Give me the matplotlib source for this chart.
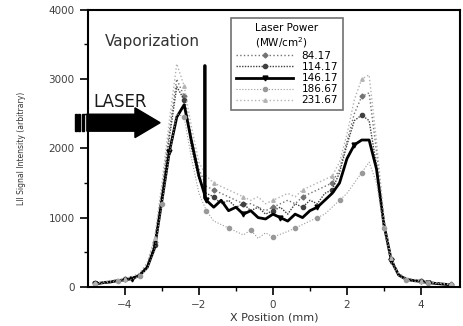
import numpy as np
import matplotlib
matplotlib.use("Agg")
import matplotlib.pyplot as plt
from matplotlib.patches import FancyArrow, Rectangle

# x grid (mm)
x_pos = np.round(np.arange(-4.8, 4.81, 0.2), 1)

# LII signal for each laser power (MW/cm^2)
p_84 = [50, 70, 80, 100, 110, 140, 190, 320, 650, 1400, 2250, 3000, 2750, 2150, 1700, 1450, 1400,
        1350, 1300, 1250, 1200, 1200, 1150, 1100, 1150, 1200, 1250, 1200, 1300, 1350, 1400, 1450,
        1500, 1700, 2100, 2500, 2750, 2800, 1950, 980, 400, 190, 120, 100, 80, 70, 55, 45, 35]
p_114 = [50, 60, 80, 90, 110, 130, 180, 300, 600, 1350, 2150, 2890, 2700, 2000, 1550, 1350, 1300,
         1200, 1250, 1150, 1200, 1100, 1150, 1050, 1100, 1150, 1050, 1200, 1150, 1250, 1200, 1350,
         1400, 1650, 2050, 2400, 2480, 2400, 1750, 950, 400, 180, 120, 100, 80, 70, 60, 40, 30]
p_146 = [40, 60, 70, 90, 100, 120, 170, 280, 560, 1250, 1950, 2450, 2630, 2100, 1600, 1250, 1150,
         1250, 1100, 1150, 1050, 1100, 1000, 980, 1050, 1000, 950, 1050, 1000, 1100, 1150, 1250,
         1350, 1500, 1850, 2050, 2120, 2120, 1700, 900, 380, 170, 110, 90, 80, 60, 50, 40, 30]
p_186 = [40, 50, 70, 80, 90, 110, 160, 260, 520, 1200, 1900, 2500, 2450, 1850, 1350, 1100, 950,
         900, 850, 800, 750, 820, 700, 780, 720, 760, 800, 850, 900, 950, 1000, 1050,
         1150, 1250, 1350, 1500, 1650, 1800, 1500, 850, 350, 160, 100, 80, 70, 60, 50, 40, 30]
p_231 = [60, 70, 90, 110, 120, 150, 200, 350, 700, 1500, 2400, 3220, 2900, 2300, 1800, 1600, 1500,
         1450, 1400, 1350, 1300, 1250, 1300, 1200, 1250, 1300, 1350, 1300, 1400, 1450, 1500, 1550,
         1600, 1800, 2200, 2700, 3000, 3060, 2100, 1000, 420, 200, 130, 110, 90, 70, 60, 50, 40]
labels = ["84.17", "114.17", "146.17", "186.67", "231.67"]

fig = plt.figure(figsize=(4.63, 3.26), dpi=100)
ax = fig.add_axes([0.19, 0.12, 0.803, 0.85])

ax.plot(x_pos, p_84, color="0.45", lw=1, ls=":", marker="D", ms=2.5, markevery=4, label=labels[0])
ax.plot(x_pos, p_114, color="0.25", lw=1, ls=(0, (1, 1)), marker="o", ms=3, markevery=4, label=labels[1])
ax.plot(x_pos, p_146, color="black", lw=2, marker="v", ms=3.5, markevery=5, label=labels[2])
ax.plot(x_pos, p_186, color="0.6", lw=0.8, ls=":", marker="o", ms=3, markevery=3, label=labels[3])
ax.plot(x_pos, p_231, color="0.7", lw=1, ls=":", marker="^", ms=2.5, markevery=4, label=labels[4])

ax.set_xlim(-5, 5.05)
ax.set_ylim(0, 4000)
ax.set_xticks([-4, -2, 0, 2, 4])
ax.set_xticks([-3, -1, 1, 3], minor=True)
ax.set_yticks([0, 1000, 2000, 3000, 4000])
ax.set_yticks([500, 1500, 2500, 3500], minor=True)
ax.tick_params(which="major", direction="out", length=6, width=1.2, labelsize=7.5, colors="black",
               labelcolor="0.25")
ax.tick_params(which="minor", direction="out", length=3, width=1)
for s in ax.spines.values():
    s.set_linewidth(1.5)

ax.set_xlabel("X Position (mm)", fontsize=8, color="0.2", labelpad=2)
ax.set_ylabel("LII Signal Intensity (arbitrary)", fontsize=5.5, color="0.2", labelpad=16)

leg = ax.legend(title="Laser Power\n(MW/cm$^2$)", loc="upper left", bbox_to_anchor=(0.37, 0.99),
                fontsize=7.5, title_fontsize=7.5, handlelength=5.5, frameon=True, fancybox=False,
                borderpad=0.5, labelspacing=0.1)
leg.get_frame().set_edgecolor("0.3")
leg.get_frame().set_linewidth(1.2)

# vaporization marker
ax.annotate("", xy=(-1.84, 1250), xytext=(-1.84, 3230),
            arrowprops=dict(arrowstyle="-", color="black", lw=2.5))
ax.text(-4.55, 3540, "Vaporization", fontsize=11, color="0.2", va="center", ha="left")

# incoming laser arrow
ax.text(-4.86, 2670, "LASER", fontsize=12, color="0.1", va="center", ha="left")
ax.add_patch(FancyArrow(-5.03, 2370, 1.98, 0, width=245, head_width=430, head_length=0.68,
                        length_includes_head=True, color="black", clip_on=False))
for bx in [-5.36, -5.26, -5.16]:
    ax.add_patch(Rectangle((bx, 2250), 0.05, 240, color="black", clip_on=False))

fig.savefig("out.png", dpi=100)
